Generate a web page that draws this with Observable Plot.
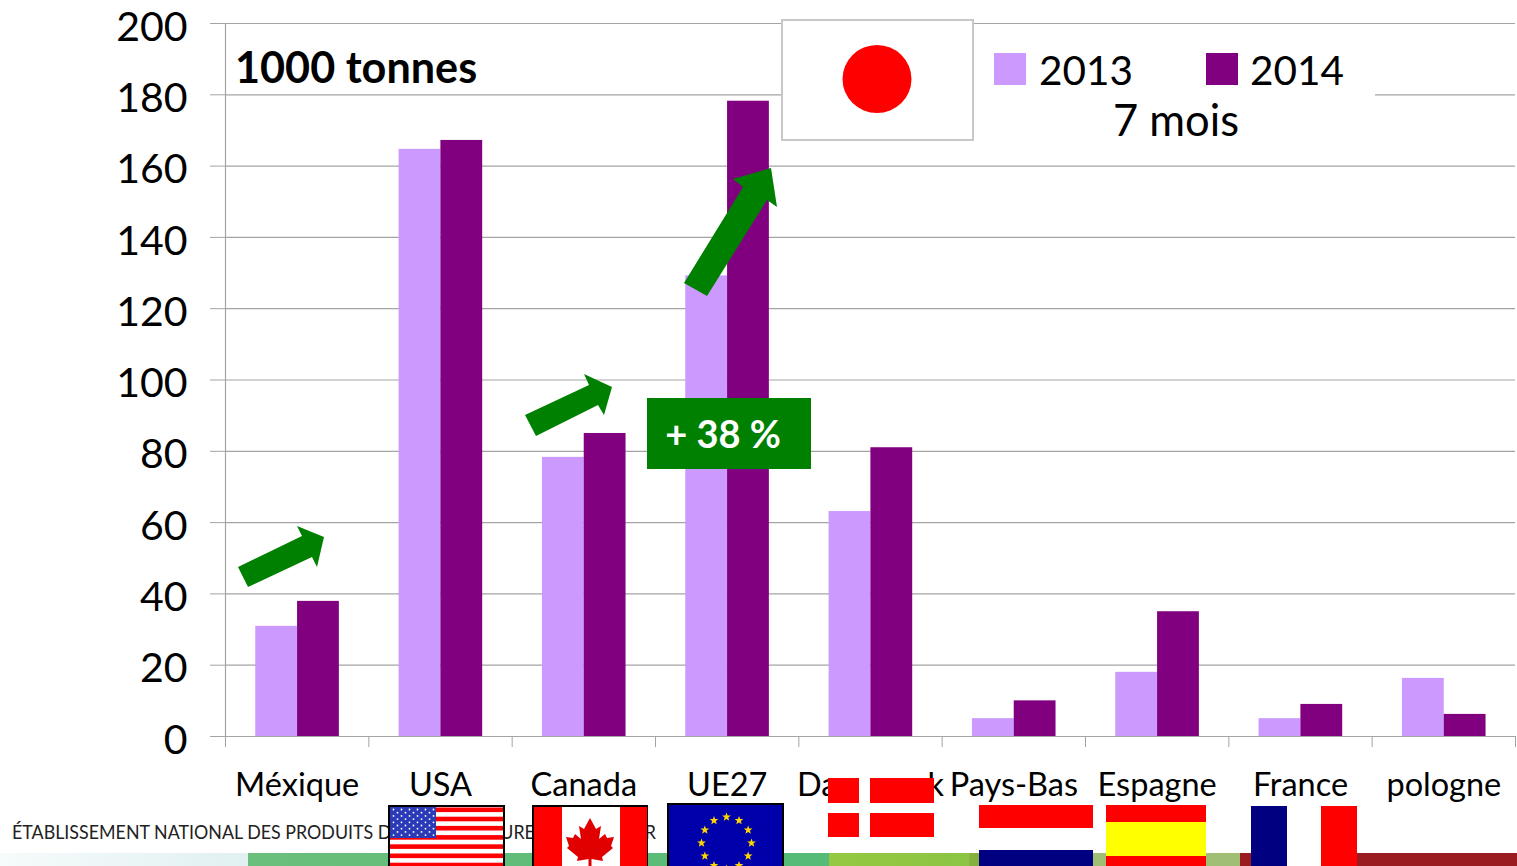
<!DOCTYPE html>
<html><head><meta charset="utf-8">
<script src="https://cdn.jsdelivr.net/npm/d3@7"></script>
<script src="https://cdn.jsdelivr.net/npm/@observablehq/plot@0.6"></script>
<style>html,body{margin:0;padding:0;background:#fff;overflow:hidden}svg{display:block}</style>
</head><body><div id="chart"></div>
<script>
const countries = ["Méxique","USA","Canada","UE27","Danemark","Pays-Bas","Espagne","France","pologne"];
const values2013 = [30.9,164.7,78.3,129.2,63.1,5,18,5,16.3];
const values2014 = [37.9,167.2,85,178.2,81,10,35,9,6.2];
const yTicks = [0,20,40,60,80,100,120,140,160,180,200];
const seriesNames = ["2013","2014"];
const seriesColors = ["#cc99ff","#800080"];
const unitLabel = "1000 tonnes";
const periodLabel = "7 mois";
const changeLabel = "+ 38 %";
const footerText = "ÉTABLISSEMENT NATIONAL DES PRODUITS DE L'AGRICULTURE ET DE LA MER";

const rows = countries.map((c,i)=>({country:c,a:values2013[i],b:values2014[i]}));
const FONT = "Lato, Carlito, sans-serif";
const bandW = (1515-225)/countries.length, barW = 41.8;

function el(g,tag,attrs,text){const e=g.append(tag);for(const k in attrs)e.attr(k,attrs[k]);if(text!==undefined)e.text(text);return e;}
function rect(g,x0,y0,x1,y1,fill,extra={}){return el(g,"rect",{x:x0,y:y0,width:x1-x0,height:y1-y0,fill,...extra});}
function poly(g,pts,fill){return el(g,"polygon",{points:pts.map(p=>p.join(",")).join(" "),fill});}
function star(cx,cy,r){const p=[];for(let i=0;i<10;i++){const a=-Math.PI/2+i*Math.PI/5,q=i%2?r*0.42:r;p.push([cx+q*Math.cos(a),cy+q*Math.sin(a)]);}return p;}

function footerMark(){
  const g=d3.create("svg:g");
  const defs=g.append("defs");
  const lg=el(defs,"linearGradient",{id:"fg",x1:0,x2:1,y1:0,y2:0});
  el(lg,"stop",{offset:0,"stop-color":"#f6fbfb"});el(lg,"stop",{offset:1,"stop-color":"#e1f0f2"});
  const lg2=el(defs,"linearGradient",{id:"fg2",x1:0,x2:1,y1:0,y2:0});
  el(lg2,"stop",{offset:0,"stop-color":"#6abf7b"});el(lg2,"stop",{offset:1,"stop-color":"#55bb77"});
  const lg3=el(defs,"linearGradient",{id:"fg3",x1:0,x2:1,y1:0,y2:0});
  el(lg3,"stop",{offset:0,"stop-color":"#95c840"});el(lg3,"stop",{offset:.93,"stop-color":"#8cc544"});el(lg3,"stop",{offset:.94,"stop-color":"#84b03c"});
  rect(g,0,853,248,866,"url(#fg)");
  rect(g,248,853,829,866,"url(#fg2)");
  rect(g,829,853,979,866,"url(#fg3)");
  rect(g,979,853,1240,866,"#a0bf74");
  rect(g,1240,853,1517,866,"#9b1c20");
  el(g,"text",{x:12,y:839,"text-anchor":"start","font-size":20,"font-family":FONT,fill:"#222",textLength:644,lengthAdjust:"spacingAndGlyphs"},footerText);
  return g.node();
}

function overlayMark(){
  const g=d3.create("svg:g").attr("text-anchor","start");
  rect(g,973,25,1375,141,"#fff");
  const green="#008000";
  poly(g,[[238,567],[248,587],[312,557],[317,567],[324,537],[297,526],[302,536]],green);
  poly(g,[[525,415],[536,436],[598,405],[604,415],[612,387],[584,374],[589,385]],green);
  poly(g,[[684,283],[707,296],[767,200],[777,207],[771,168],[733,179],[743,187]],green);
  rect(g,647,398,811,469,green);
  el(g,"text",{x:723,y:448,"text-anchor":"middle","font-size":38,"font-weight":700,"font-family":FONT,fill:"#fff"},changeLabel);
  el(g,"text",{x:235,y:83,"font-size":43.2,"font-weight":700,"font-family":FONT,fill:"#000"},unitLabel);
  rect(g,782,20,973,140,"#fff",{stroke:"#c8c8c8","stroke-width":2});
  el(g,"ellipse",{cx:877,cy:79,rx:34.5,ry:34,fill:"#f00"});
  [[994,1039],[1206,1250]].forEach(([sx,tx],i)=>{
    rect(g,sx,53,sx+32,85,seriesColors[i]);
    el(g,"text",{x:tx,y:85,"font-size":40.5,"font-family":FONT,fill:"#000"},seriesNames[i]);
  });
  el(g,"text",{x:1176,y:136,"text-anchor":"middle","font-size":43.5,"font-family":FONT,fill:"#000"},periodLabel);
  // USA
  rect(g,389,806,504,867,"#fff",{stroke:"#000","stroke-width":2});
  for(let i=0;i<7;i++)rect(g,390,807.5+i*9.2,503,807.5+i*9.2+4.6,"#f00");
  rect(g,390,807,436,838,"#2b3bb8");
  for(let r=0;r<9;r++){const n=r%2?5:6;for(let c=0;c<n;c++)el(g,"circle",{cx:393.5+(r%2?4:0)+c*8,cy:809.5+r*3.2,r:.9,fill:"#fff"});}
  // Canada
  rect(g,533,806,647,867,"#fff",{stroke:"#000","stroke-width":2});
  rect(g,534,807,562,866,"#f00");rect(g,620,807,647,866,"#f00");
  poly(g,[[590,818],[596,829],[601,826],[599,839],[605,834],[607,838],[614,837],[611,846],[613,848],[602,857],[603,861],[591.5,859],[591.5,866],[588.5,866],[588.5,859],[577,861],[578,857],[567,848],[569,846],[566,837],[573,838],[575,834],[581,839],[579,826],[584,829]],"#e00000");
  // EU
  rect(g,668,804,783,867,"#0000aa",{stroke:"#000","stroke-width":2});
  for(let i=0;i<12;i++){const a=i*Math.PI/6;poly(g,star(726.5+25*Math.sin(a),843-26*Math.cos(a),4.6),"#ffd500");}
  // Denmark
  rect(g,828,778,934,837,"#f00");rect(g,859,778,870,837,"#fff");rect(g,828,803,934,813,"#fff");
  // Netherlands
  rect(g,979,805,1093,828,"#f00");rect(g,979,828,1093,850,"#fff");rect(g,979,850,1093,866,"#000080");
  // Spain
  rect(g,1106,805,1206,822,"#f00");rect(g,1106,822,1206,856,"#ff0");rect(g,1106,856,1206,866,"#f00");
  // France
  rect(g,1251,806,1287,866,"#000080");rect(g,1287,806,1321,866,"#fff");rect(g,1321,806,1357,866,"#f00");
  return g.node();
}

const plot = Plot.plot({
  width:1517,height:866,
  marginLeft:225,marginRight:2,marginTop:23,marginBottom:130,
  style:{fontFamily:FONT,background:"#fff",color:"#000"},
  x:{domain:countries,padding:0,round:false,axis:null},
  y:{domain:[0,200],axis:null},
  marks:[
    Plot.gridY(yTicks,{stroke:"#a4a4a4",strokeOpacity:1,strokeWidth:1.2}),
    Plot.axisY(yTicks,{anchor:"left",tickSize:15,tickPadding:38,stroke:"#a4a4a4",text:()=>"",label:null}),
    Plot.axisY(yTicks,{anchor:"left",tickSize:0,tickPadding:38,dy:4,fontSize:41,fill:"#000",label:null}),
    Plot.frame({anchor:"left",stroke:"#a4a4a4",strokeWidth:1.2}),
    Plot.ruleX(countries,{x:d=>d,dx:-bandW/2,y1:0,y2:-3.1,stroke:"#a4a4a4"}),
    Plot.ruleX(countries.slice(-1),{x:d=>d,dx:bandW/2,y1:0,y2:-3.1,stroke:"#a4a4a4"}),
    Plot.barY(rows,{x:"country",y:"a",dx:0.4,fill:seriesColors[0],insetLeft:bandW/2-barW,insetRight:bandW/2}),
    Plot.barY(rows,{x:"country",y:"b",dx:0.4,fill:seriesColors[1],insetLeft:bandW/2,insetRight:bandW/2-barW}),
    Plot.axisX({anchor:"bottom",tickSize:0,tickPadding:36,fontSize:32.5,fill:"#000",label:null}),
    footerMark,
    overlayMark
  ]
});
document.getElementById("chart").append(plot);
</script></body></html>
